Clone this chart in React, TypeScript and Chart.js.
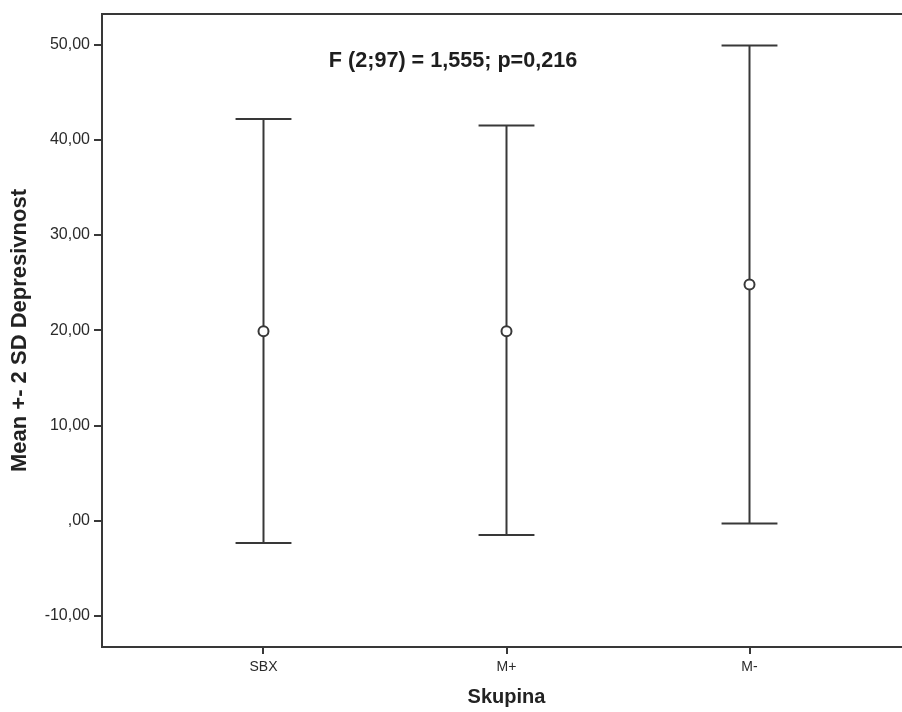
import React, { useEffect, useRef } from 'react';
import { Chart, registerables } from 'chart.js';

Chart.register(...registerables);

const GROUPS = ['SBX', 'M+', 'M-'];
const MEANS = [19.9, 19.9, 24.8];
const UPPER = [42.2, 41.5, 49.9];
const LOWER = [-2.35, -1.5, -0.3];
const Y_TICKS = [-10, 0, 10, 20, 30, 40, 50];
const Y_MIN = -13.26;
const Y_MAX = 53.22;
const X_MIN = 0.3354;
const X_MAX = 3.6646;
const CAP_HALF = 0.115;
const X_TITLE = 'Skupina';
const Y_TITLE = 'Mean +- 2 SD Depresivnost';
const ANNOTATION = 'F (2;97) = 1,555; p=0,216';
const ANNOT_X = 1.78;
const ANNOT_Y = 48.3;

const INK = '#383838';
const FONT = "'Liberation Sans', Arial, sans-serif";

const fmt = (v: number) => (v === 0 ? ',00' : v.toFixed(2).replace('.', ','));

export default function App() {
  const ref = useRef<HTMLCanvasElement | null>(null);

  useEffect(() => {
    if (!ref.current) return;
    Chart.defaults.font.family = FONT;

    const lineStyle = {
      showLine: true,
      borderColor: INK,
      borderWidth: 2,
      pointRadius: 0,
      pointHoverRadius: 0,
      fill: false,
      tension: 0,
    };

    const datasets: any[] = [
      {
        label: 'Mean',
        data: GROUPS.map((_, i) => ({ x: i + 1, y: MEANS[i] })),
        showLine: false,
        pointRadius: 5,
        pointBorderWidth: 2,
        pointBorderColor: INK,
        pointBackgroundColor: '#ffffff',
        borderColor: INK,
        backgroundColor: '#ffffff',
      },
    ];
    GROUPS.forEach((_, i) => {
      const x = i + 1;
      datasets.push({ ...lineStyle, label: 'bar', data: [{ x, y: LOWER[i] }, { x, y: UPPER[i] }] });
      datasets.push({ ...lineStyle, label: 'capU', data: [{ x: x - CAP_HALF, y: UPPER[i] }, { x: x + CAP_HALF, y: UPPER[i] }] });
      datasets.push({ ...lineStyle, label: 'capL', data: [{ x: x - CAP_HALF, y: LOWER[i] }, { x: x + CAP_HALF, y: LOWER[i] }] });
    });

    const framePlugin = {
      id: 'frameAndText',
      afterDraw(chart: any) {
        const { ctx, chartArea, scales } = chart;
        ctx.save();
        ctx.strokeStyle = INK;
        ctx.lineWidth = 2;
        ctx.beginPath();
        ctx.moveTo(chartArea.left - 1, chartArea.top);
        ctx.lineTo(chartArea.right, chartArea.top);
        ctx.stroke();
        ctx.fillStyle = '#1e1e1e';
        ctx.font = `bold 21.6px ${FONT}`;
        ctx.textAlign = 'center';
        ctx.textBaseline = 'middle';
        ctx.fillText(ANNOTATION, scales.x.getPixelForValue(ANNOT_X), scales.y.getPixelForValue(ANNOT_Y));
        ctx.restore();
      },
    };

    const chart = new Chart(ref.current, {
      type: 'scatter',
      data: { datasets },
      options: {
        responsive: false,
        animation: false,
        devicePixelRatio: 1,
        layout: { padding: { top: 14, right: 0, left: 0, bottom: 0 } },
        plugins: { legend: { display: false }, tooltip: { enabled: false } },
        events: [],
        scales: {
          x: {
            type: 'linear',
            min: X_MIN,
            max: X_MAX,
            afterBuildTicks: (s: any) => {
              s.ticks = GROUPS.map((_, i) => ({ value: i + 1 }));
            },
            afterFit: (s: any) => {
              s.height = 65;
            },
            ticks: {
              autoSkip: false,
              maxRotation: 0,
              padding: 5,
              color: '#2a2a2a',
              font: { size: 14, family: FONT },
              callback: (v: any) => GROUPS[Math.round(Number(v)) - 1] ?? '',
            },
            grid: { drawOnChartArea: false, drawTicks: true, tickLength: 7, color: INK, lineWidth: 2 },
            border: { display: true, color: INK, width: 2 },
            title: {
              display: true,
              text: X_TITLE,
              color: '#222',
              font: { size: 20, weight: 'bold', family: FONT },
              padding: { top: 0, bottom: 3 },
            },
          },
          y: {
            type: 'linear',
            min: Y_MIN,
            max: Y_MAX,
            afterBuildTicks: (s: any) => {
              s.ticks = Y_TICKS.map((v) => ({ value: v }));
            },
            afterFit: (s: any) => {
              s.width = 102;
            },
            ticks: {
              padding: 4,
              color: '#2a2a2a',
              font: { size: 16, family: FONT },
              callback: (v: any) => fmt(Number(v)),
            },
            grid: { drawOnChartArea: false, drawTicks: true, tickLength: 8, color: INK, lineWidth: 2 },
            border: { display: true, color: INK, width: 2 },
            title: {
              display: true,
              text: Y_TITLE,
              color: '#222',
              font: { size: 22, weight: 'bold', family: FONT },
              padding: { top: 7, bottom: 0 },
            },
          },
        },
      },
      plugins: [framePlugin],
    } as any);

    return () => chart.destroy();
  }, []);

  return (
    <div style={{ position: 'fixed', left: 0, top: 0, width: 902, height: 712, overflow: 'hidden', background: '#fff' }}>
      <canvas ref={ref} width={918} height={712} style={{ display: 'block', width: 918, height: 712 }} />
    </div>
  );
}
